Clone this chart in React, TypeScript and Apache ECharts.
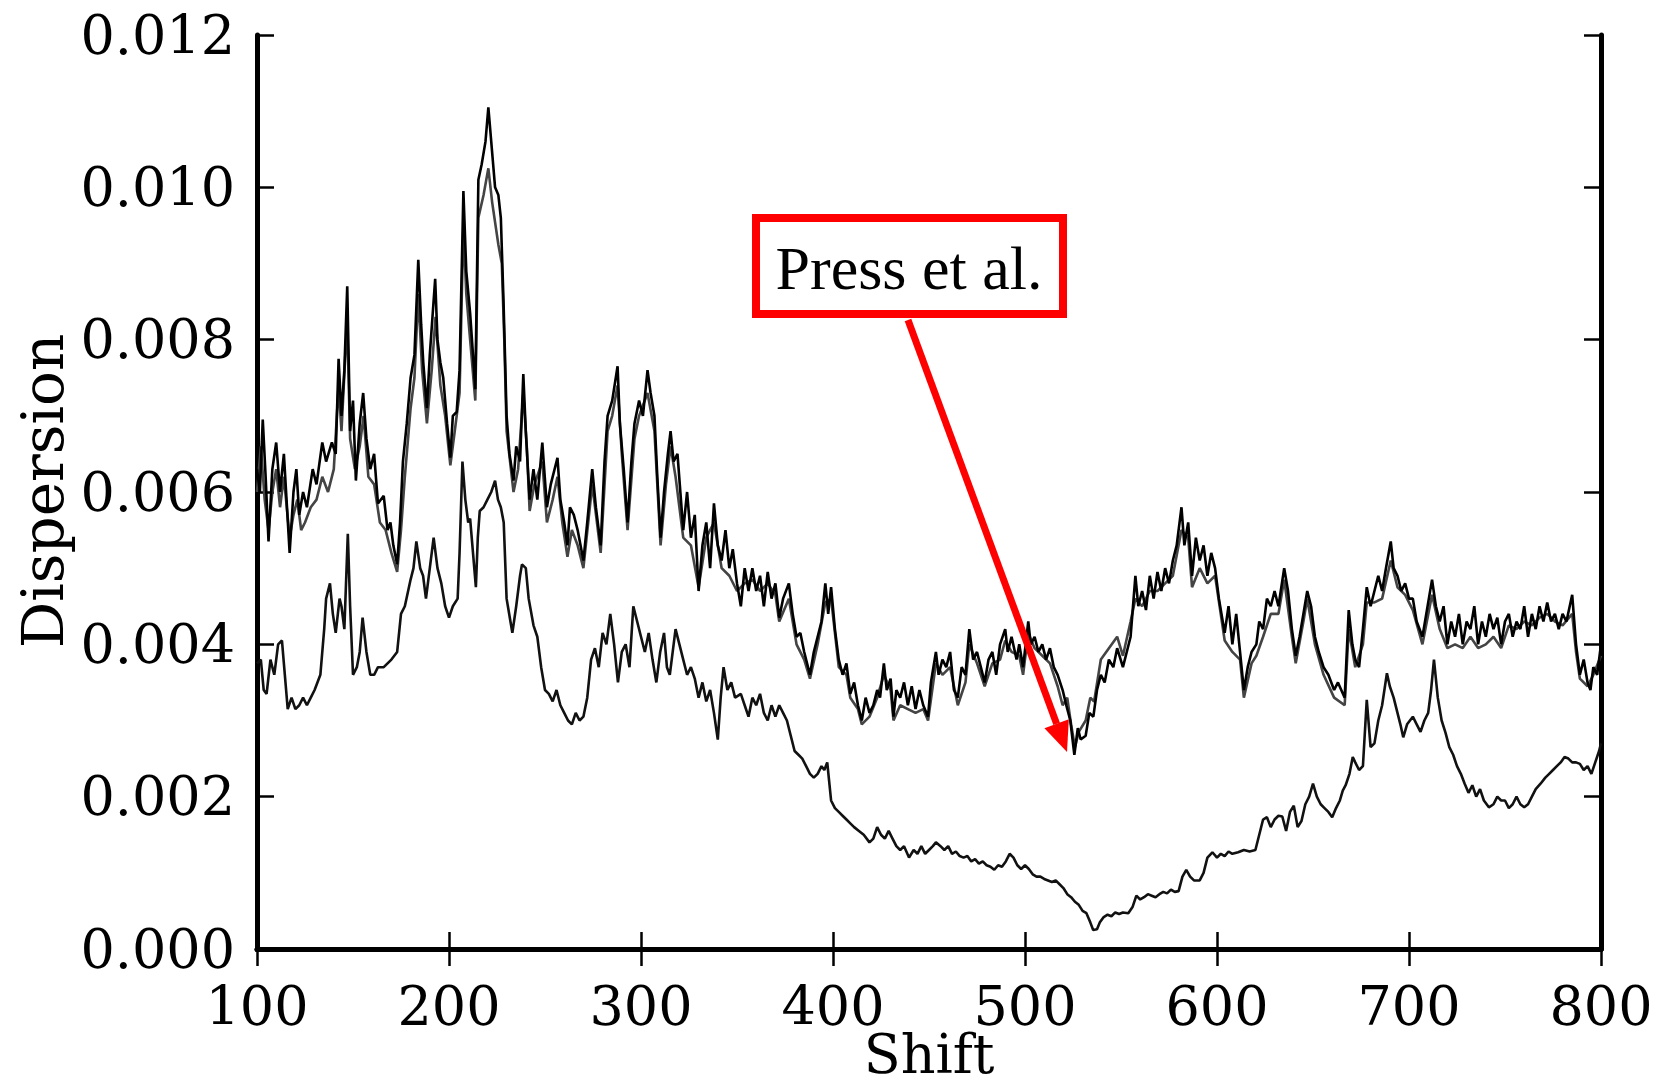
import React, { useEffect, useRef } from "react";
import * as echarts from "echarts";

// Shift ticks and dispersion ticks (dispersion values in units of 1e-3)
const xTicks = [100, 200, 300, 400, 500, 600, 700, 800];
const yTicks = [0, 2, 4, 6, 8, 10, 12];

// Upper curve A (black) : [shift, dispersion x 1e-3]
const upperA: [number, number][] = [
  [100, 6.3], [101.5, 6.0], [103, 6.95], [104.5, 6.2], [106, 5.35], [108, 6.3], [110, 6.65], [112, 6.0], [114, 6.5], [117, 5.2],
  [119, 6.0], [120.5, 6.3], [122, 5.7], [124, 6.0], [126, 5.8], [129, 6.3], [131, 6.1], [134, 6.65], [136, 6.4], [139, 6.65],
  [141, 6.5], [142.5, 7.75], [144, 7.0], [145.5, 7.6], [147, 8.7], [148.5, 6.8], [150, 7.2], [151.5, 6.15], [153.5, 6.9], [155.3, 7.3],
  [157, 6.7], [159, 6.3], [161, 6.5], [163, 5.85], [166, 5.95], [168, 5.5], [169.5, 5.6], [171, 5.3], [173, 5.05], [174.5, 5.6],
  [176, 6.4], [178, 6.9], [180, 7.5], [182, 7.8], [184, 9.05], [185.5, 8.2], [186.6, 7.7], [188.5, 7.1], [190, 7.8], [192.8, 8.8],
  [194, 8.0], [195.5, 7.7], [197, 7.5], [199, 6.9], [200.7, 6.45], [202, 7.0], [204, 7.05], [205.5, 7.6], [207.5, 9.95], [209, 8.9],
  [211, 8.35], [212.5, 7.8], [213.7, 7.35], [215.3, 10.1], [217, 10.3], [219, 10.6], [220.5, 11.05], [222, 10.6], [224, 10.0], [225.7, 9.9],
  [227, 9.6], [228.4, 8.5], [230, 7.0], [231.5, 6.5], [233.6, 6.15], [235, 6.6], [237, 6.4], [238.7, 7.55], [240, 6.8], [242, 5.9],
  [244, 6.3], [246, 5.9], [248.6, 6.65], [251, 5.8], [253, 6.1], [256.5, 6.45], [258, 5.9], [260, 5.6], [261.7, 5.3], [263, 5.8],
  [265, 5.7], [267, 5.5], [270, 5.1], [272, 5.6], [274.6, 6.3], [276.5, 5.8], [279, 5.3], [281, 6.4], [282.6, 7.0], [285, 7.2],
  [287.8, 7.65], [289, 6.9], [291, 6.3], [293, 5.6], [295, 6.4], [296.6, 6.9], [299, 7.2], [301, 7.0], [303.4, 7.6], [305, 7.3],
  [307, 7.0], [308.5, 6.2], [310.2, 5.4], [312, 6.0], [314, 6.5], [315.4, 6.8], [317, 6.4], [319, 6.5], [322, 5.5], [324, 6.0],
  [326, 5.4], [328, 5.7], [330, 4.7], [332, 5.3], [334, 5.6], [336, 5.0], [338, 5.85], [340, 5.3], [342, 5.1], [344, 5.5],
  [346, 5.0], [347.8, 5.25], [350, 4.8], [352, 4.5], [354, 5.0], [356, 4.7], [358, 5.0], [360, 4.7], [362, 4.9], [364, 4.5],
  [366, 4.95], [368, 4.6], [370, 4.8], [372, 4.35], [374, 4.6], [377, 4.8], [379, 4.4], [381, 4.1], [383, 4.15], [385, 3.9],
  [388, 3.6], [390, 3.9], [392, 4.1], [394, 4.3], [396, 4.8], [397.5, 4.4], [399, 4.75], [401, 4.2], [403, 3.8], [405, 3.6],
  [407, 3.75], [409, 3.35], [411, 3.5], [413, 3.2], [415, 3.0], [417, 3.3], [419, 3.1], [421, 3.2], [423, 3.4], [424.5, 3.3],
  [426.5, 3.75], [428, 3.4], [430, 3.55], [431.5, 3.05], [433, 3.4], [435, 3.3], [437, 3.5], [439, 3.2], [441, 3.45], [443, 3.15],
  [445, 3.4], [447, 3.2], [449.5, 3.05], [451, 3.5], [453.6, 3.9], [455, 3.6], [457, 3.8], [459, 3.7], [461, 3.9], [463, 3.4],
  [465, 3.3], [467, 3.7], [469, 3.6], [471, 4.2], [473, 3.8], [475, 3.9], [477, 3.7], [479, 3.5], [481, 3.8], [483, 3.9],
  [485, 3.6], [487, 4.0], [489.7, 4.2], [491, 3.9], [493, 4.1], [495.6, 3.8], [497, 4.0], [499, 3.7], [501.7, 4.3], [503, 4.0],
  [505, 4.1], [507, 3.9], [509, 4.0], [511, 3.8], [513, 3.95], [515, 3.7], [517, 3.6], [519.6, 3.4], [521.5, 3.2], [523.6, 3.0],
  [525.7, 2.55], [527.5, 2.9], [529, 2.75], [531.6, 2.8], [533.5, 3.1], [535.6, 3.05], [537.5, 3.4], [539.5, 3.6], [541.5, 3.5], [543.7, 3.8],
  [546, 3.7], [548, 3.95], [551, 3.7], [553, 3.9], [555, 4.1], [557.5, 4.9], [559, 4.5], [561, 4.7], [563, 4.45], [565, 4.9],
  [567, 4.6], [569, 4.95], [571, 4.7], [573, 5.0], [575, 4.8], [577, 5.1], [579, 5.3], [581.5, 5.8], [583, 5.3], [585, 5.6],
  [587, 4.9], [589, 5.4], [591, 5.1], [593, 5.3], [595, 4.9], [597, 5.2], [599, 5.0], [601, 4.6], [604, 4.15], [606, 4.5],
  [608, 4.0], [610, 4.4], [612, 3.9], [614, 3.4], [616, 3.7], [618, 3.9], [620.5, 4.0], [622, 4.3], [624, 4.2], [626, 4.6],
  [628, 4.5], [630, 4.7], [632, 4.5], [635, 5.0], [637, 4.7], [639, 4.2], [641, 3.85], [643, 4.1], [645, 4.4], [647, 4.7],
  [649, 4.5], [651, 4.1], [653, 3.9], [655.5, 3.7], [658, 3.6], [661, 3.4], [663, 3.5], [666.5, 3.3], [668.6, 4.45], [670.5, 4.0],
  [672, 3.8], [674, 3.7], [676, 4.2], [678, 4.75], [680, 4.5], [682, 4.7], [684, 4.9], [686, 4.7], [688, 5.0], [690.5, 5.35],
  [692, 5.0], [694, 4.9], [696, 4.7], [698, 4.8], [700, 4.6], [702, 4.6], [704, 4.3], [707, 4.1], [709, 4.4], [712, 4.85],
  [714, 4.5], [716, 4.3], [718, 4.5], [720, 4.0], [722, 4.3], [724, 4.1], [726, 4.4], [728, 4.0], [730, 4.3], [732, 4.2],
  [734, 4.5], [736, 4.0], [738, 4.3], [740, 4.1], [742, 4.4], [744, 4.2], [746, 4.35], [748, 4.0], [750, 4.3], [752, 4.4],
  [754, 4.1], [756, 4.3], [758, 4.2], [760, 4.5], [762, 4.1], [764, 4.4], [766, 4.2], [768, 4.5], [770, 4.3], [772, 4.55],
  [774, 4.3], [776, 4.4], [778, 4.2], [780, 4.4], [782, 4.3], [785, 4.65], [787, 4.0], [789, 3.6], [791, 3.8], [793, 3.5],
  [794.5, 3.4], [796, 3.7], [798, 3.6], [800, 4.0],
];

// Upper curve B (grey)
const upperB: [number, number][] = [
  [100, 6.0], [102, 6.6], [104, 5.9], [106, 5.5], [108, 6.0], [110, 6.3], [112, 5.8], [114, 6.2], [117, 5.4], [119, 5.7],
  [121, 5.9], [123, 5.5], [125, 5.6], [128, 5.8], [131, 5.9], [134, 6.2], [137, 6.0], [140, 6.3], [142.5, 7.4], [144, 6.8],
  [146, 7.8], [147, 8.2], [148.5, 6.7], [151, 6.3], [153.5, 6.6], [155.5, 7.0], [158, 6.2], [161, 6.1], [164, 5.6], [167, 5.5],
  [170, 5.2], [173, 4.95], [175, 5.5], [177, 6.2], [180, 7.1], [182, 7.5], [184, 8.6], [186, 7.6], [188.5, 6.9], [191, 7.6],
  [193, 8.3], [195.5, 7.4], [198, 7.0], [200.7, 6.35], [203, 6.8], [205.5, 7.3], [207.5, 9.5], [209, 8.6], [211, 8.0], [213.7, 7.2],
  [215.3, 9.6], [218, 9.9], [220.5, 10.25], [222.5, 9.8], [225.7, 9.25], [227.5, 9.0], [228.8, 8.0], [230, 6.8], [233.6, 6.0], [236, 6.3],
  [238.7, 7.3], [240.5, 6.6], [242, 5.75], [244.5, 6.1], [248.6, 6.4], [251, 5.6], [254, 5.9], [256.5, 6.2], [259, 5.6], [261.7, 5.15],
  [264, 5.5], [267, 5.3], [270, 5.0], [274.6, 6.1], [279, 5.2], [282.6, 6.8], [285, 7.0], [287.8, 7.4], [290, 6.5], [293, 5.5],
  [296.6, 6.7], [299, 7.0], [303.4, 7.3], [307, 6.8], [310.2, 5.3], [313, 6.1], [315.4, 6.6], [318, 6.2], [322, 5.4], [326, 5.3],
  [330, 4.75], [334, 5.4], [338, 5.6], [342, 5.0], [346, 4.9], [350, 4.7], [354, 4.8], [358, 4.85], [362, 4.7], [366, 4.8],
  [370, 4.65], [372, 4.3], [377, 4.6], [381, 4.0], [385, 3.8], [388, 3.55], [392, 4.0], [396, 4.55], [399, 4.6], [403, 3.7],
  [407, 3.6], [409, 3.3], [413, 3.15], [415, 2.95], [419, 3.05], [423, 3.3], [426.5, 3.6], [430, 3.4], [431.5, 3.0], [435, 3.2],
  [439, 3.15], [443, 3.1], [447, 3.15], [449.5, 3.0], [453.6, 3.75], [457, 3.6], [461, 3.7], [465, 3.2], [469, 3.5], [471, 4.0],
  [475, 3.75], [479, 3.45], [483, 3.75], [487, 3.8], [489.7, 4.05], [493, 3.9], [497, 3.85], [499, 3.6], [501.7, 4.15], [505, 3.95],
  [509, 3.85], [513, 3.75], [517, 3.45], [519.6, 3.2], [522, 3.3], [524, 2.95], [526, 2.65], [528, 2.85], [531.6, 3.0], [534, 3.3],
  [536, 3.25], [539.5, 3.8], [543.7, 3.95], [548, 4.1], [551, 3.85], [555, 4.3], [557.5, 4.6], [561, 4.5], [565, 4.7], [569, 4.7],
  [573, 4.8], [577, 4.9], [581.5, 5.5], [585, 5.4], [587, 4.75], [591, 5.0], [595, 4.8], [599, 4.9], [604, 4.05], [608, 3.9],
  [612, 3.8], [614, 3.3], [618, 3.75], [620.5, 3.85], [624, 4.1], [628, 4.4], [632, 4.4], [635, 4.85], [639, 4.1], [641, 3.75],
  [645, 4.3], [647, 4.6], [651, 4.0], [655.5, 3.6], [661, 3.3], [666.5, 3.2], [668.6, 4.2], [672, 3.7], [676, 4.0], [678, 4.55],
  [682, 4.55], [686, 4.6], [690.5, 5.1], [694, 4.75], [698, 4.65], [702, 4.45], [707, 4.0], [712, 4.65], [716, 4.2], [720, 3.95],
  [724, 4.0], [728, 3.95], [732, 4.1], [736, 3.95], [740, 4.0], [744, 4.1], [748, 3.95], [752, 4.25], [756, 4.2], [760, 4.3],
  [764, 4.25], [768, 4.35], [772, 4.4], [776, 4.3], [780, 4.25], [785, 4.4], [787, 3.9], [789, 3.55], [793, 3.45], [796, 3.6],
  [800, 3.85],
];

// Lower curve (Press et al.)
const lower: [number, number][] = [
  [100, 3.75], [102, 3.8], [103.5, 3.4], [105, 3.35], [107, 3.8], [109, 3.6], [111, 4.0], [113, 4.05], [114.5, 3.6], [116, 3.15],
  [118, 3.3], [120, 3.15], [122, 3.2], [124, 3.3], [126, 3.2], [128, 3.3], [130, 3.4], [133, 3.6], [135, 4.2], [136, 4.6],
  [138, 4.8], [139.5, 4.4], [141, 4.15], [143, 4.6], [144, 4.5], [145.5, 4.2], [147.3, 5.45], [148.5, 4.5], [150, 3.6], [152, 3.7],
  [153.5, 3.9], [155, 4.35], [157, 3.9], [159, 3.6], [161, 3.6], [163, 3.7], [166, 3.7], [168, 3.75], [170, 3.8], [173, 3.9],
  [175, 4.4], [177, 4.5], [180, 4.85], [181.5, 5.0], [183, 5.35], [185, 5.0], [186.5, 4.9], [188, 4.6], [190, 5.0], [192, 5.4],
  [194, 5.0], [196, 4.8], [198, 4.5], [200, 4.35], [202, 4.5], [204.5, 4.6], [205.5, 5.2], [207, 6.4], [208.5, 5.9], [210, 5.6],
  [211, 5.65], [212.5, 5.2], [214, 4.75], [215, 5.4], [216, 5.75], [218, 5.8], [220, 5.9], [222, 6.0], [224, 6.15], [225.5, 5.9],
  [227, 5.8], [228.5, 5.6], [230, 4.6], [232, 4.3], [233, 4.15], [235, 4.5], [237, 4.9], [238, 5.05], [240, 5.0], [241.5, 4.6],
  [244, 4.25], [246, 4.1], [248, 3.7], [250, 3.4], [252, 3.35], [254, 3.25], [256, 3.4], [258, 3.2], [260, 3.1], [262, 3.0],
  [264, 2.95], [266, 3.1], [268, 3.0], [270, 3.05], [272, 3.3], [274, 3.8], [276, 3.95], [278, 3.7], [280, 4.15], [282, 4.0],
  [284, 4.4], [286, 4.0], [288, 3.5], [290, 3.9], [292, 4.0], [294, 3.7], [296, 4.5], [298, 4.3], [300, 4.1], [302, 3.9],
  [304, 4.15], [306, 3.8], [308, 3.5], [310, 3.9], [312, 4.15], [313.5, 3.7], [315, 3.6], [317, 4.0], [318, 4.2], [320, 4.0],
  [322, 3.8], [324, 3.6], [326, 3.7], [328, 3.55], [330, 3.3], [332, 3.5], [334, 3.25], [336, 3.4], [338, 3.1], [340, 2.75],
  [341.5, 3.3], [343, 3.7], [345, 3.4], [347, 3.5], [349, 3.3], [352, 3.35], [354, 3.2], [356, 3.05], [358, 3.3], [360, 3.2],
  [362, 3.35], [364, 3.1], [366, 3.0], [368, 3.2], [370, 3.05], [372, 3.2], [374, 3.1], [376, 3.0], [378, 2.8], [380, 2.6],
  [382, 2.55], [384, 2.5], [386, 2.4], [388, 2.3], [390, 2.25], [392, 2.3], [394, 2.4], [395.5, 2.35], [397, 2.45], [398, 2.2],
  [399, 1.95], [401, 1.85], [403, 1.8], [405, 1.75], [407, 1.7], [409, 1.65], [411, 1.6], [413.5, 1.55], [416, 1.5], [419, 1.4],
  [421, 1.45], [423, 1.6], [425, 1.5], [427, 1.45], [429, 1.55], [431, 1.45], [433, 1.35], [435, 1.3], [437, 1.35], [439.6, 1.2],
  [442, 1.3], [444, 1.25], [446, 1.35], [448, 1.25], [450, 1.3], [452, 1.35], [453.6, 1.4], [456, 1.35], [458, 1.3], [460, 1.35],
  [462, 1.25], [464, 1.28], [466, 1.22], [468, 1.2], [470, 1.22], [472, 1.15], [474, 1.18], [476, 1.12], [478, 1.15], [480, 1.1],
  [482, 1.08], [484, 1.04], [486, 1.1], [488, 1.08], [490, 1.15], [492, 1.25], [494, 1.2], [496, 1.1], [498, 1.05], [500, 1.1],
  [502, 1.05], [504, 0.98], [506, 0.95], [508, 0.95], [510, 0.92], [512, 0.9], [514, 0.88], [516, 0.9], [518, 0.85], [520, 0.8],
  [522, 0.72], [524, 0.68], [526, 0.62], [528, 0.58], [530, 0.5], [532, 0.47], [534, 0.35], [535.5, 0.25], [537.5, 0.26], [539, 0.35],
  [541, 0.42], [543, 0.45], [545, 0.43], [547, 0.48], [549, 0.46], [551, 0.48], [553.8, 0.47], [556, 0.55], [558, 0.7], [560, 0.65],
  [562, 0.68], [564, 0.72], [566, 0.7], [568, 0.68], [570, 0.72], [572, 0.75], [574, 0.73], [576, 0.78], [578, 0.75], [580, 0.76],
  [582, 0.95], [584, 1.04], [586, 0.95], [588, 0.9], [591, 0.9], [593, 1.0], [595, 1.2], [597.6, 1.27], [600, 1.2], [602, 1.25],
  [604, 1.22], [606, 1.28], [608, 1.25], [611, 1.27], [614, 1.3], [617, 1.28], [620, 1.3], [622, 1.5], [624, 1.7], [626, 1.73],
  [628, 1.6], [630, 1.7], [632, 1.75], [634, 1.74], [636, 1.55], [638, 1.8], [640, 1.88], [642, 1.6], [644, 1.68], [646, 1.9],
  [648, 2.0], [650, 2.17], [652, 2.0], [654, 1.9], [656, 1.85], [658, 1.8], [660, 1.73], [662, 1.85], [664, 1.95], [665.5, 2.08],
  [667, 2.15], [669, 2.3], [670.7, 2.52], [672, 2.45], [674, 2.35], [676, 2.4], [678, 3.27], [680, 2.65], [682, 2.7], [684, 3.0],
  [686, 3.2], [688.5, 3.62], [690, 3.45], [692, 3.3], [694, 3.1], [695.5, 2.95], [697, 2.78], [699, 2.95], [702, 3.05], [704, 2.95],
  [706, 2.85], [708, 3.0], [710, 3.1], [711.5, 3.4], [713, 3.8], [715, 3.3], [717, 3.0], [719, 2.84], [721, 2.65], [723, 2.55],
  [725, 2.4], [727, 2.3], [729, 2.17], [731, 2.05], [733, 2.15], [735, 2.0], [737, 2.1], [739, 1.95], [741.6, 1.86], [744, 1.9],
  [746, 2.0], [748, 1.95], [750, 1.95], [752, 1.85], [754, 1.9], [756, 2.0], [758, 1.9], [760, 1.86], [762, 1.9], [764, 2.0],
  [766, 2.1], [768.5, 2.17], [771, 2.25], [773, 2.3], [775, 2.35], [777, 2.4], [779, 2.45], [781, 2.52], [783, 2.5], [785, 2.45],
  [787, 2.45], [789, 2.43], [791, 2.35], [793, 2.4], [795, 2.3], [797, 2.45], [799, 2.6], [800, 2.7],
];

const annotationText = "Press et al.";
const xTitle = "Shift";
const yTitle = "Dispersion";

const FONT = "'DejaVu Serif', serif";

export default function App() {
  const ref = useRef<HTMLDivElement>(null);

  useEffect(() => {
    if (!ref.current) return;
    const chart = echarts.init(ref.current, undefined, { renderer: "svg" });

    const axisLine = { show: true, lineStyle: { color: "#000", width: 5 } };
    const axisTick = { show: true, inside: true, length: 17, lineStyle: { color: "#000", width: 2.5 } };
    const xMin = xTicks[0];
    const xMax = xTicks[xTicks.length - 1];
    const yMin = yTicks[0];
    const yMax = yTicks[yTicks.length - 1];

    // arrow geometry
    const start = [908, 320];
    const tip = [1067, 752];
    const dx = tip[0] - start[0];
    const dy = tip[1] - start[1];
    const len = Math.sqrt(dx * dx + dy * dy);
    const ux = dx / len;
    const uy = dy / len;
    const headLen = 30;
    const headHalf = 13;
    const bx = tip[0] - ux * headLen;
    const by = tip[1] - uy * headLen;

    const option: any = {
      animation: false,
      backgroundColor: "#fff",
      grid: { left: 257, top: 35, width: 1344, height: 914, containLabel: false },
      xAxis: [
        {
          type: "value",
          min: xMin,
          max: xMax,
          interval: 100,
          axisLine,
          axisTick,
          splitLine: { show: false },
          axisLabel: {
            show: true,
            margin: 30,
            color: "#000",
            fontFamily: FONT,
            fontSize: 54,
            formatter: (v: number) => String(v),
          },
        },
        {
          type: "value",
          position: "top",
          min: xMin,
          max: xMax,
          interval: 100,
          axisLine,
          axisTick,
          splitLine: { show: false },
          axisLabel: { show: false },
        },
      ],
      yAxis: [
        {
          type: "value",
          min: yMin,
          max: yMax,
          interval: 2,
          axisLine,
          axisTick,
          splitLine: { show: false },
          axisLabel: {
            show: true,
            margin: 22,
            color: "#000",
            fontFamily: FONT,
            fontSize: 54,
            formatter: (v: number) => (v / 1000).toFixed(3),
          },
        },
        {
          type: "value",
          position: "right",
          min: yMin,
          max: yMax,
          interval: 2,
          axisLine,
          axisTick,
          splitLine: { show: false },
          axisLabel: { show: false },
        },
      ],
      series: [
        {
          type: "line",
          data: upperB,
          showSymbol: false,
          lineStyle: { color: "#444", width: 2.6 },
          z: 2,
        },
        {
          type: "line",
          data: upperA,
          showSymbol: false,
          lineStyle: { color: "#000", width: 2.6 },
          z: 3,
        },
        {
          type: "line",
          data: lower,
          showSymbol: false,
          lineStyle: { color: "#111", width: 2.6 },
          z: 3,
        },
      ],
      graphic: [
        {
          type: "text",
          x: 929,
          y: 1054,
          style: {
            text: xTitle,
            fontFamily: FONT,
            fontSize: 54,
            fill: "#000",
            align: "center",
            verticalAlign: "middle",
          },
        },
        {
          type: "text",
          x: 43,
          y: 491,
          rotation: Math.PI / 2,
          style: {
            text: yTitle,
            fontFamily: FONT,
            fontSize: 58,
            fill: "#000",
            align: "center",
            verticalAlign: "middle",
          },
        },
        {
          type: "rect",
          shape: { x: 756, y: 218, width: 307, height: 96 },
          style: { fill: "#fff", stroke: "#ff0000", lineWidth: 8 },
          z: 100,
        },
        {
          type: "text",
          x: 909,
          y: 268,
          style: {
            text: annotationText,
            fontFamily: "'Liberation Serif', 'Times New Roman', serif",
            fontSize: 62,
            fill: "#000",
            align: "center",
            verticalAlign: "middle",
          },
          z: 101,
        },
        {
          type: "line",
          shape: { x1: start[0], y1: start[1], x2: bx, y2: by },
          style: { stroke: "#ff0000", lineWidth: 7 },
          z: 100,
        },
        {
          type: "polygon",
          shape: {
            points: [
              [tip[0], tip[1]],
              [bx - uy * headHalf, by + ux * headHalf],
              [bx + uy * headHalf, by - ux * headHalf],
            ],
          },
          style: { fill: "#ff0000" },
          z: 100,
        },
      ],
    };

    chart.setOption(option);
    return () => chart.dispose();
  }, []);

  return (
    <div
      ref={ref}
      style={{ position: "fixed", left: 0, top: 0, width: 1667, height: 1086, background: "#fff" }}
    />
  );
}
